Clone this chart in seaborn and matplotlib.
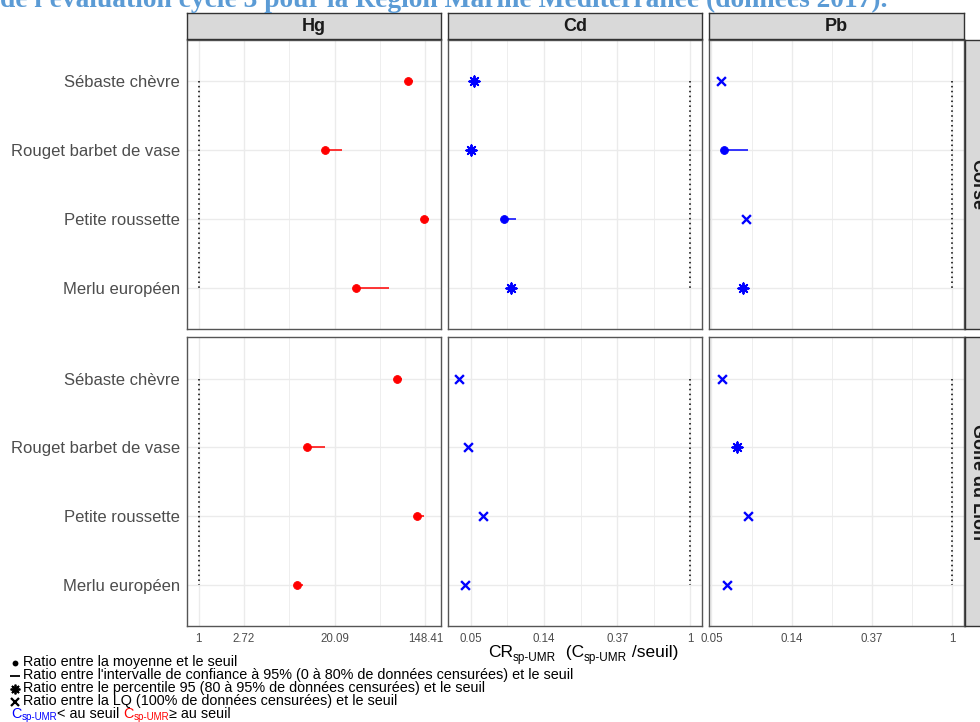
import numpy as np
import pandas as pd
import matplotlib
matplotlib.use("Agg")
import matplotlib.pyplot as plt
import seaborn as sns
from matplotlib.lines import Line2D
from matplotlib.ticker import FixedLocator, NullLocator, NullFormatter

# ── Data (ratios C / seuil) ──────────────────────────────────────────────────
SPECIES = ["Sébaste chèvre", "Rouget barbet de vase", "Petite roussette", "Merlu européen"]
METALS = ["Hg", "Cd", "Pb"]
REGIONS = ["Corse", "Golfe du Lion"]

HG_CORSE = [100.0, 16.1, 144.0, 31.8]
HG_CORSE_CI = [114.0, 23.6, 161.0, 66.7]
HG_CORSE_KIND = ["moy", "moy", "moy", "moy"]
HG_GOLFE = [79.0, 11.0, 124.0, 8.7]
HG_GOLFE_CI = [89.0, 16.1, 144.0, 10.1]
HG_GOLFE_KIND = ["moy", "moy", "moy", "moy"]

CD_CORSE = [0.052, 0.050, 0.078, 0.086]
CD_CORSE_CI = [np.nan, np.nan, 0.092, np.nan]
CD_CORSE_KIND = ["p95", "p95", "moy", "p95"]
CD_GOLFE = [0.0425, 0.048, 0.059, 0.0457]
CD_GOLFE_CI = [np.nan, np.nan, np.nan, np.nan]
CD_GOLFE_KIND = ["lq", "lq", "lq", "lq"]

PB_CORSE = [0.056, 0.058, 0.0765, 0.0734]
PB_CORSE_CI = [np.nan, 0.0785, np.nan, np.nan]
PB_CORSE_KIND = ["lq", "moy", "lq", "p95"]
PB_GOLFE = [0.057, 0.0686, 0.0789, 0.0608]
PB_GOLFE_CI = [np.nan, np.nan, np.nan, np.nan]
PB_GOLFE_KIND = ["lq", "p95", "lq", "lq"]

PANELS = [
    ("Corse", "Hg", HG_CORSE, HG_CORSE_CI, HG_CORSE_KIND),
    ("Corse", "Cd", CD_CORSE, CD_CORSE_CI, CD_CORSE_KIND),
    ("Corse", "Pb", PB_CORSE, PB_CORSE_CI, PB_CORSE_KIND),
    ("Golfe du Lion", "Hg", HG_GOLFE, HG_GOLFE_CI, HG_GOLFE_KIND),
    ("Golfe du Lion", "Cd", CD_GOLFE, CD_GOLFE_CI, CD_GOLFE_KIND),
    ("Golfe du Lion", "Pb", PB_GOLFE, PB_GOLFE_CI, PB_GOLFE_KIND),
]

TICKS = {"Hg": [0, 1, 3, 5], "Cd": [-3, -2, -1, 0], "Pb": [-3, -2, -1, 0]}
MINOR = {"Hg": [2, 4], "Cd": [-2.5, -1.5, -0.5], "Pb": [-2.5, -1.5, -0.5]}

rows = []
for region, metal, vals, ci, kinds in PANELS:
    for k, sp in enumerate(SPECIES):
        rows.append({"region": region, "metal": metal, "species": sp, "y": k,
                     "ratio": vals[k], "ci": ci[k], "kind": kinds[k]})
df = pd.DataFrame(rows)
df["color"] = np.where(df["ratio"] >= 1, "#FF0000", "#0000FF")

# ── Style ────────────────────────────────────────────────────────────────────
sns.set_theme(style="white")
plt.rcParams["font.family"] = ["Liberation Sans", "DejaVu Sans"]

W, H = 980, 722
fig = plt.figure(figsize=(W / 100, H / 100), dpi=100)


def box(x0, y0, x1, y1):
    return [x0 / W, 1 - y1 / H, (x1 - x0) / W, (y1 - y0) / H]


COLS = [(187, 440.7), (447.7, 702), (709.3, 963.7)]
ROWS = [(40, 329.3), (337.3, 626)]
MARKERS = {"moy": dict(marker="o", s=32, linewidth=0.6),
           "p95": dict(marker=(8, 2, 0), s=55, linewidth=1.4),
           "lq": dict(marker="x", s=40, linewidth=1.7)}

# free x scale per column (facet_grid), log, 5% expansion like ggplot
XLIM = {}
for metal in METALS:
    col = df[df.metal == metal]
    lo = np.log(min(col["ratio"].min(), 1))
    hi = np.log(max(col["ratio"].max(), np.nanmax(np.r_[col["ci"].values, 1])))
    pad = 0.05 * (hi - lo)
    XLIM[metal] = (np.exp(lo - pad), np.exp(hi + pad))

for i, region in enumerate(REGIONS):
    for j, metal in enumerate(METALS):
        ax = fig.add_axes(box(COLS[j][0], ROWS[i][0], COLS[j][1], ROWS[i][1]))
        sub = df[(df.region == region) & (df.metal == metal)]

        ax.set_xscale("log")
        ax.set_xlim(*XLIM[metal])
        ax.set_ylim(3.6, -0.6)

        ax.xaxis.set_major_locator(FixedLocator(np.exp(TICKS[metal])))
        ax.xaxis.set_minor_locator(FixedLocator(np.exp(MINOR[metal])))
        ax.xaxis.set_minor_formatter(NullFormatter())
        ax.set_xticklabels([f"{v:.2f}".rstrip("0").rstrip(".") if v != 1 else "1"
                            for v in np.exp(TICKS[metal])])
        ax.yaxis.set_major_locator(FixedLocator(range(len(SPECIES))))
        ax.yaxis.set_minor_locator(NullLocator())
        ax.set_yticklabels(SPECIES)

        ax.set_axisbelow(True)
        ax.grid(True, which="major", color="#EBEBEB", linewidth=1.0)
        ax.grid(True, which="minor", axis="x", color="#EBEBEB", linewidth=0.6)
        ax.set_facecolor("white")
        for sp in ax.spines.values():
            sp.set_color("#555555")
            sp.set_linewidth(1.0)

        ax.tick_params(which="minor", length=0)
        ax.tick_params(which="major", length=3, width=0.8, color="#333333",
                       labelcolor="#4D4D4D", pad=2)
        ax.tick_params(axis="x", labelsize=8.3)
        ax.tick_params(axis="y", labelsize=12)
        if i == 0:
            ax.tick_params(axis="x", length=0, labelbottom=False)
        if j > 0:
            ax.tick_params(axis="y", length=0, labelleft=False)

        # threshold line
        ax.plot([1, 1], [0, len(SPECIES) - 1], color="black",
                linestyle=(0, (1, 2.2)), linewidth=1.1, zorder=2)

        # confidence interval segments
        ci = sub.dropna(subset=["ci"])
        for _, r in ci.iterrows():
            ax.hlines(r["y"], r["ratio"], r["ci"], color=r["color"], linewidth=1.1, zorder=3)

        for (kind, color), grp in sub.groupby(["kind", "color"]):
            kw = dict(MARKERS[kind])
            kw["edgecolor"] = color if kind == "moy" else None
            sns.scatterplot(data=grp, x="ratio", y="y", color=color, ax=ax,
                            legend=False, zorder=4, **kw)
        ax.set_xlabel("")
        ax.set_ylabel("")

# ── Strips ───────────────────────────────────────────────────────────────────
def strip(rect, label, rotation=0):
    s = fig.add_axes(rect)
    s.set_facecolor("#D9D9D9")
    s.set_xticks([])
    s.set_yticks([])
    for sp in s.spines.values():
        sp.set_color("#333333")
        sp.set_linewidth(1.0)
    s.text(0.5, 0.5, label, transform=s.transAxes, ha="center", va="center",
           fontsize=13, fontweight="bold", color="#1A1A1A", rotation=rotation)


for j, metal in enumerate(METALS):
    strip(box(COLS[j][0], 13, COLS[j][1], 39.3), metal)
for i, region in enumerate(REGIONS):
    strip(box(964.5, ROWS[i][0], 989.5, ROWS[i][1]), region, rotation=-90)

# ── Text helpers ─────────────────────────────────────────────────────────────
renderer = fig.canvas.get_renderer()


def pieces_text(x0, y, pieces, center=False):
    texts, x = [], x0
    for s, size, color, dy in pieces:
        t = fig.text(x / W, 1 - (y + dy) / H, s, fontsize=size, color=color,
                     ha="left", va="baseline")
        x += t.get_window_extent(renderer=renderer).width
        texts.append(t)
    if center:
        shift = (x - x0) / 2
        for t in texts:
            px, py = t.get_position()
            t.set_position((px - shift / W, py))
    return x


# x axis title
pieces_text(583, 657, [("CR", 12.5, "black", 0), ("sp-UMR", 8.5, "black", 3.5),
                       ("  (C", 12.5, "black", 0), ("sp-UMR", 8.5, "black", 3.5),
                       (" /seuil)", 12.5, "black", 0)], center=True)

# title, cut by the top edge
fig.text(0.0, 1 - 7 / H,
         "de l'évaluation cycle 3 pour la Région Marine Méditerranée (données 2017).",
         fontsize=19.8, fontweight="bold", color="#5B9BD5", ha="left", va="baseline",
         family=["Liberation Serif", "DejaVu Serif"])

# legend block: symbol + text per line
LEG_TEXT = ["Ratio entre la moyenne et le seuil",
            "Ratio entre l'intervalle de confiance à 95% (0 à 80% de données censurées) et le seuil",
            "Ratio entre le percentile 95 (80 à 95% de données censurées) et le seuil",
            "Ratio entre la LQ (100% de données censurées) et le seuil"]
LEG_SYM = [dict(marker="o", markersize=4.2, markeredgewidth=0),
           dict(marker="_", markersize=7, markeredgewidth=1.3),
           dict(marker=(8, 2, 0), markersize=7, markeredgewidth=1.3),
           dict(marker="x", markersize=5.5, markeredgewidth=1.6)]
for k, (txt, sym) in enumerate(zip(LEG_TEXT, LEG_SYM)):
    yb = 666 + 13 * k
    fig.add_artist(Line2D([15 / W], [1 - (yb - 3.5) / H], linestyle="none",
                          color="black", transform=fig.transFigure, **sym))
    fig.text(23 / W, 1 - yb / H, txt, fontsize=10.4, color="black",
             ha="left", va="baseline")

pieces_text(11, 718, [("C", 10.4, "#0000FF", 0), ("sp-UMR", 7, "#0000FF", 2.5),
                      ("< au seuil ", 10.4, "black", 0),
                      ("C", 10.4, "#FF0000", 0), ("sp-UMR", 7, "#FF0000", 2.5),
                      ("≥ au seuil", 10.4, "black", 0)])

fig.savefig("out.png", dpi=100)
